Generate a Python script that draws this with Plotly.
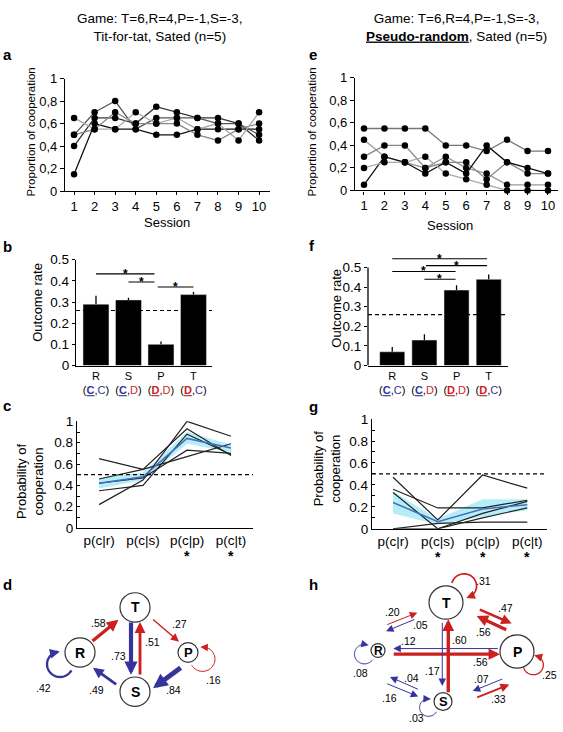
import numpy as np
import plotly.graph_objects as go

# ---------------- data ----------------
sessions = [1, 2, 3, 4, 5, 6, 7, 8, 9, 10]

tft_coop_m1 = [0.15, 0.60, 0.55, 0.55, 0.50, 0.50, 0.55, 0.55, 0.55, 0.55]
tft_coop_m2 = [0.40, 0.65, 0.65, 0.60, 0.75, 0.70, 0.65, 0.65, 0.60, 0.45]
tft_coop_m3 = [0.50, 0.70, 0.80, 0.55, 0.65, 0.65, 0.65, 0.60, 0.60, 0.50]
tft_coop_m4 = [0.50, 0.55, 0.70, 0.60, 0.60, 0.60, 0.50, 0.45, 0.55, 0.60]
tft_coop_m5 = [0.65, 0.55, 0.55, 0.70, 0.60, 0.65, 0.55, 0.60, 0.45, 0.70]

pr_coop_m1 = [0.55, 0.55, 0.55, 0.55, 0.40, 0.40, 0.35, 0.45, 0.35, 0.35]
pr_coop_m2 = [0.45, 0.30, 0.25, 0.20, 0.30, 0.20, 0.15, 0.05, 0.05, 0.05]
pr_coop_m3 = [0.30, 0.40, 0.40, 0.20, 0.25, 0.25, 0.10, 0.25, 0.15, 0.15]
pr_coop_m4 = [0.05, 0.30, 0.25, 0.15, 0.25, 0.15, 0.40, 0.25, 0.20, 0.15]
pr_coop_m5 = [0.20, 0.25, 0.25, 0.30, 0.15, 0.10, 0.05, 0.00, 0.00, 0.00]

outcomes = ["R", "S", "P", "T"]
outcome_pairs = [("C", "C"), ("C", "D"), ("D", "D"), ("D", "C")]
tft_rate = [0.29, 0.31, 0.10, 0.335]
tft_rate_err = [0.04, 0.01, 0.013, 0.012]
pr_rate = [0.07, 0.13, 0.385, 0.44]
pr_rate_err = [0.025, 0.03, 0.025, 0.025]
chance_rate = 0.26
tft_sig_pairs = [("R", "P"), ("S", "P"), ("P", "T")]
pr_sig_pairs = [("R", "T"), ("S", "T"), ("R", "P"), ("S", "P")]

cond_labels = ["p(c|r)", "p(c|s)", "p(c|p)", "p(c|t)"]
tft_cond_m1 = [0.65, 0.55, 0.67, 0.79]
tft_cond_m2 = [0.22, 0.45, 1.00, 0.86]
tft_cond_m3 = [0.46, 0.55, 0.93, 0.68]
tft_cond_m4 = [0.35, 0.40, 0.88, 0.69]
tft_cond_m5 = [0.42, 0.47, 0.73, 0.70]
tft_cond_mean = [0.42, 0.48, 0.84, 0.75]
tft_cond_lo = [0.37, 0.45, 0.79, 0.71]
tft_cond_hi = [0.47, 0.52, 0.90, 0.78]
tft_cond_sig = ["p(c|p)", "p(c|t)"]

pr_cond_m1 = [0.47, 0.08, 0.49, 0.37]
pr_cond_m2 = [0.36, 0.19, 0.19, 0.26]
pr_cond_m3 = [0.33, 0.00, 0.14, 0.25]
pr_cond_m4 = [0.00, 0.05, 0.06, 0.06]
pr_cond_m5 = [0.00, 0.00, 0.10, 0.19]
pr_cond_mean = [0.24, 0.065, 0.18, 0.22]
pr_cond_lo = [0.14, 0.04, 0.11, 0.17]
pr_cond_hi = [0.34, 0.09, 0.27, 0.27]
pr_cond_sig = ["p(c|s)", "p(c|p)", "p(c|t)"]
chance_coop = 0.5

tft_trans_src = ["R", "T", "S", "T", "P", "S", "R", "P"]
tft_trans_dst = ["T", "S", "T", "P", "S", "R", "R", "P"]
tft_trans_p = [0.58, 0.73, 0.51, 0.27, 0.84, 0.49, 0.42, 0.16]

pr_trans_src = ["R", "T", "T", "P", "P", "R", "S", "T", "S", "R", "P", "S", "T", "R", "S", "P"]
pr_trans_dst = ["T", "R", "P", "T", "R", "P", "T", "S", "R", "S", "S", "P", "T", "R", "S", "P"]
pr_trans_p = [0.20, 0.05, 0.47, 0.56, 0.12, 0.56, 0.60, 0.17, 0.04, 0.16, 0.07, 0.33, 0.31, 0.08, 0.03, 0.25]

# ---------------- style / layout ----------------
W, H = 563, 732
FONT = "Liberation Sans, Arial, sans-serif"
BLUE = "#34349c"
RED = "#cc1f1f"
BAND = "#b4eff7"
MEAN = "#4a6cc0"


def dx(a, b):
    return [a / W, b / W]


def dy(top, bottom):
    return [1 - bottom / H, 1 - top / H]


def axis(**kw):
    base = dict(showline=True, linecolor="black", linewidth=1.3, showgrid=False, zeroline=False,
                ticks="outside", ticklen=4, tickwidth=1.2, tickcolor="black",
                tickfont=dict(family=FONT, size=13, color="black"), fixedrange=True)
    base.update(kw)
    return base


fig = go.Figure()

# ---- panels a / e : session lines ----
a_colors = ["#111111", "#333333", "#555555", "#888888", "#aaaaaa"]
e_colors = ["#777777", "#999999", "#888888", "#111111", "#aaaaaa"]
for series, col in zip([tft_coop_m1, tft_coop_m2, tft_coop_m3, tft_coop_m4, tft_coop_m5], a_colors):
    fig.add_trace(go.Scatter(x=sessions, y=series, mode="lines+markers", xaxis="x", yaxis="y",
                             line=dict(color=col, width=1.3), marker=dict(color="black", size=6.5),
                             cliponaxis=False, showlegend=False))
for series, col in zip([pr_coop_m1, pr_coop_m2, pr_coop_m3, pr_coop_m4, pr_coop_m5], e_colors):
    fig.add_trace(go.Scatter(x=sessions, y=series, mode="lines+markers", xaxis="x2", yaxis="y2",
                             line=dict(color=col, width=1.3), marker=dict(color="black", size=6.5),
                             cliponaxis=False, showlegend=False))

# ---- panels b / f : outcome bars ----
idx = list(range(len(outcomes)))
fig.add_trace(go.Bar(x=idx, y=tft_rate, xaxis="x3", yaxis="y3", width=0.8, marker_color="black",
                     error_y=dict(type="data", array=tft_rate_err, arrayminus=[0] * 4, symmetric=False,
                                  color="black", thickness=1.3, width=0), showlegend=False))
fig.add_trace(go.Bar(x=idx, y=pr_rate, xaxis="x4", yaxis="y4", width=0.78, marker_color="black",
                     error_y=dict(type="data", array=pr_rate_err, arrayminus=[0] * 4, symmetric=False,
                                  color="black", thickness=1.3, width=0), showlegend=False))

# ---- panels c / g : conditional probabilities ----
cidx = list(range(len(cond_labels)))
for xa, ya, lo, hi, lines, mean in [
        ("x5", "y5", tft_cond_lo, tft_cond_hi,
         [tft_cond_m1, tft_cond_m2, tft_cond_m3, tft_cond_m4, tft_cond_m5], tft_cond_mean),
        ("x6", "y6", pr_cond_lo, pr_cond_hi,
         [pr_cond_m1, pr_cond_m2, pr_cond_m3, pr_cond_m4, pr_cond_m5], pr_cond_mean)]:
    fig.add_trace(go.Scatter(x=cidx, y=hi, xaxis=xa, yaxis=ya, mode="lines", line=dict(width=0, color=BAND),
                             showlegend=False))
    fig.add_trace(go.Scatter(x=cidx, y=lo, xaxis=xa, yaxis=ya, mode="lines", line=dict(width=0, color=BAND),
                             fill="tonexty", fillcolor=BAND, showlegend=False))
    for s in lines:
        fig.add_trace(go.Scatter(x=cidx, y=s, xaxis=xa, yaxis=ya, mode="lines",
                                 line=dict(color="#222222", width=1.2), showlegend=False, cliponaxis=False))
    fig.add_trace(go.Scatter(x=cidx, y=mean, xaxis=xa, yaxis=ya, mode="lines",
                             line=dict(color=MEAN, width=1.5), showlegend=False))


def outcome_ticktext(lbl, pair):
    def col(c):
        return BLUE if c == "C" else RED
    a, b = pair
    return (f"{lbl}<br>(<span style='color:{col(a)}'><b><u>{a}</u></b></span>,"
            f"<span style='color:{col(b)}'>{b}</span>)")


tt = [outcome_ticktext(l, p) for l, p in zip(outcomes, outcome_pairs)]

comma = ["0", "0,2", "0,4", "0,6", "0,8", "1"]
yv = [0, 0.2, 0.4, 0.6, 0.8, 1]
layout = dict(
    width=W, height=H, margin=dict(l=0, r=0, t=0, b=0),
    paper_bgcolor="white", plot_bgcolor="rgba(0,0,0,0)", showlegend=False,
    font=dict(family=FONT, color="black"),
    xaxis=axis(domain=dx(65, 270), range=[0.56, 10.53], tickvals=sessions, ticklen=3, anchor="y"),
    yaxis=axis(domain=dy(73, 188), range=[0, 1], tickvals=yv, ticktext=comma, anchor="x"),
    xaxis2=axis(domain=dx(355, 558), range=[0.56, 10.49], tickvals=sessions, ticklen=3, anchor="y2"),
    yaxis2=axis(domain=dy(72.3, 187.3), range=[0, 1], tickvals=yv, ticktext=comma, anchor="x2"),
    xaxis3=axis(domain=dx(76, 212), range=[-0.615, 3.57], tickvals=idx, ticktext=tt, ticks="",
                tickfont=dict(family=FONT, size=11, color="black"), anchor="y3"),
    yaxis3=axis(domain=dy(258, 366), range=[0, 0.5], tickvals=[0, 0.1, 0.2, 0.3, 0.4, 0.5],
                ticktext=["0", "0.1", "0.2", "0.3", "0.4", "0.5"], ticklen=3,
                tickfont=dict(family=FONT, size=13.5, color="black"), anchor="x3"),
    xaxis4=axis(domain=dx(368, 508), range=[-0.754, 3.6], tickvals=idx, ticktext=tt, ticks="",
                tickfont=dict(family=FONT, size=11, color="black"), anchor="y4"),
    yaxis4=axis(domain=dy(254, 366), range=[0, 0.56], tickvals=[0, 0.1, 0.2, 0.3, 0.4, 0.5],
                ticktext=["0", "0.1", "0.2", "0.3", "0.4", "0.5"], ticklen=3, showline=False,
                tickfont=dict(family=FONT, size=13.5, color="black"), anchor="x4"),
    xaxis5=axis(domain=dx(77, 253), range=[-0.5, 3.5], tickvals=cidx, ticktext=cond_labels, ticks="",
                tickfont=dict(family=FONT, size=13.5, color="black"), anchor="y5"),
    yaxis5=axis(domain=dy(423, 532), range=[0, 1], tickvals=yv,
                ticktext=["0", "0.2", "0.4", "0.6", "0.8", "1"], ticks="inside", ticklen=3,
                minor=dict(ticks="inside", dtick=0.1, ticklen=3, tickcolor="black"),
                tickfont=dict(family=FONT, size=13.5, color="black"), anchor="x5"),
    xaxis6=axis(domain=dx(372, 547), range=[-0.47, 3.44], tickvals=cidx, ticktext=cond_labels, ticks="",
                tickfont=dict(family=FONT, size=13.5, color="black"), anchor="y6"),
    yaxis6=axis(domain=dy(420.7, 532.7), range=[0, 1], tickvals=yv,
                ticktext=["0", "0.2", "0.4", "0.6", "0.8", "1"], ticks="inside", ticklen=3,
                minor=dict(ticks="inside", dtick=0.1, ticklen=3, tickcolor="black"),
                tickfont=dict(family=FONT, size=13.5, color="black"), anchor="x6"),
    xaxis7=dict(domain=[0, 1], range=[0, W], visible=False, fixedrange=True, anchor="y7"),
    yaxis7=dict(domain=[0, 1], range=[H, 0], visible=False, fixedrange=True, anchor="x7"),
)
fig.update_layout(**layout)

shapes = []
annots = []


def text(xp, yp, s, size=12, angle=0, bold=False, xanchor="center", yanchor="middle", align="center"):
    annots.append(dict(x=xp / W, y=1 - yp / H, xref="paper", yref="paper", text=f"<b>{s}</b>" if bold else s,
                       showarrow=False, textangle=angle, xanchor=xanchor, yanchor=yanchor, align=align,
                       font=dict(family=FONT, size=size, color="black")))


# titles
text(160, 21, "Game: T=6,R=4,P=-1,S=-3,<br>Tit-for-tat, Sated (n=5)", 13.5)
text(456, 21, "Game: T=6,R=4,P=-1,S=-3,<br><b><u>Pseudo-random</u></b>, Sated (n=5)", 13.5)
# panel letters
for L, xp, yp in [("a", 7, 48), ("b", 7, 245), ("c", 7, 407), ("d", 7, 590),
                  ("e", 313, 48), ("f", 312, 244), ("g", 313, 408), ("h", 313, 590)]:
    text(xp, yp, L, 15, bold=True)
# axis titles
text(31, 128, "Proportion of cooperation", 11.5, angle=-90)
text(312, 128, "Proportion of cooperation", 11.5, angle=-90)
text(167, 220, "Session", 13)
text(450, 223, "Session", 13)
text(38, 302, "Outcome rate", 13, angle=-90)
text(337, 308, "Outcome rate", 13, angle=-90)
text(30, 484, "Probability of<br>cooperation", 13, angle=-90)
text(327, 471, "Probability of<br>cooperation", 13, angle=-90)

dash = dict(color="black", width=1.2, dash="4px,3px")
for xa, ya, yval in [("x3", "y3", chance_rate), ("x4", "y4", chance_rate),
                     ("x5", "y5", chance_coop), ("x6", "y6", chance_coop)]:
    shapes.append(dict(type="line", xref=f"{xa} domain", x0=0, x1=1, yref=ya, y0=yval, y1=yval, line=dash))
# y-axis line of panel f (axis stops at 0.5)
shapes.append(dict(type="line", xref="x4 domain", x0=0, x1=0, yref="y4", y0=0, y1=0.5,
                   line=dict(color="black", width=1.3)))

# significance bars
tft_sig_level = [0.433, 0.395, 0.371]
tft_sig_trim = [(0, -0.2), (0, -0.2), (-0.1, 0)]
pr_sig_level = [0.545, 0.51, 0.48, 0.44]
pr_sig_trim = [(0, -0.05), (0.05, -0.05), (0, -0.03), (0, -0.03)]
for xa, ya, pairs, levels, trims in [("x3", "y3", tft_sig_pairs, tft_sig_level, tft_sig_trim),
                                     ("x4", "y4", pr_sig_pairs, pr_sig_level, pr_sig_trim)]:
    for (p0, p1), lev, (t0, t1) in zip(pairs, levels, trims):
        a0 = outcomes.index(p0) + t0
        a1 = outcomes.index(p1) + t1
        shapes.append(dict(type="line", xref=xa, yref=ya, x0=a0, x1=a1, y0=lev, y1=lev,
                           line=dict(color="black", width=1.1)))
        annots.append(dict(x=(a0 + a1) / 2, y=lev, xref=xa, yref=ya, text="<b>*</b>", showarrow=False,
                           yanchor="middle", font=dict(family=FONT, size=12, color="black")))

# stars under conditional-probability labels
for xa, sig, yp in [("x5", tft_cond_sig, 560), ("x6", pr_cond_sig, 561)]:
    for s in sig:
        annots.append(dict(x=cond_labels.index(s), y=1 - yp / H, xref=xa, yref="paper", text="<b>*</b>",
                           showarrow=False, yanchor="middle", font=dict(family=FONT, size=14, color="black")))

# ---------------- transition diagrams ----------------
d_nodes = {"T": (135, 613, 15, 14), "R": (80, 659, 15, 14), "P": (188, 659, 10, 13), "S": (135, 699, 15, 14)}
h_nodes = {"T": (446, 608, 17, 14), "R": (378, 657, 7, 12), "P": (517, 658, 17, 14), "S": (443, 709, 9, 13)}

d_geom = [("edge", 0.23, -1.0, 0.71, -1.0), ("edge", 0.174, 4, 0.80, 4), ("edge", 0.198, 5, 0.826, 5),
          ("edge", 0.30, -2.5, 0.80, -2.5), ("edge", 0.22, -8, 0.75, -8), ("edge", 0.28, -5, 0.71, -5),
          ("loop", 149, 23.3, 13, "cw", 60), ("loop", 25, 16, 12.5, "ccw", 55)]
d_lab = [(-7, -7.6), (-13, 8), (12, -7), (14, -6), (6, 12), (-8, 14), (-17, 24), (10.5, 21)]

h_geom = [("edge", 0.268, -16.2, 0.65, -8.4), ("edge", 0.419, 4.3, 0.785, 11.3),
          ("edge", 0.36, -13.5, 0.76, -20.4), ("edge", 0.243, 12.1, 0.62, 6.5),
          ("edge", 0.135, 2.9, 0.89, 2.1), ("edge", 0.11, 3.6, 0.878, 2.8),
          ("edge", 0.09, 5.0, 0.832, 2.8), ("edge", 0.202, 3.1, 0.845, 1.2),
          ("edge", 0.324, -5.8, 0.685, -13.6), ("edge", 0.334, 20.9, 0.73, 11.5),
          ("edge", 0.308, -14.9, 0.66, -8.1), ("edge", 0.334, 15.8, 0.717, 23.4),
          ("loop", -43, 24.7, 12.5, "cw", 57), ("loop", 165, 14, 10, "cw", 50),
          ("loop", 157, 15.7, 9, "cw", 52), ("loop", 40, 21.3, 10, "ccw", 55)]
h_lab = [(-9.3, -6.8), (19.5, -0.5), (9.5, -8.2), (-8.4, 9.4), (-37.5, -7.7), (34.3, 7.6), (11, -16.5),
         (-9.6, 17.5), (7.5, -5.4), (-12.5, 7.7), (-6, -6.5), (5.3, 8.3), (19, -5), (-4, 19), (-12, 11), (16, 10)]


def arrow(x0, y0, x1, y1, color, w):
    size = (5 + 1.6 * w) / (4.4 * w)
    annots.append(dict(x=x1, y=y1, ax=x0, ay=y0, xref="x7", yref="y7", axref="x7", ayref="y7", text="",
                       font=dict(size=1), borderpad=0,
                       showarrow=True, arrowhead=2, arrowsize=size, arrowwidth=w, arrowcolor=color,
                       standoff=0, startstandoff=0))


def network(nodes, src, dst, prob, geom, lab):
    for u, v, p, g, (lx, ly) in zip(src, dst, prob, geom, lab):
        color = RED if v in ("T", "P") else BLUE
        w = max(1.0, 1 + 6 * (p - 0.2))
        cu = np.array(nodes[u][:2], dtype=float)
        if g[0] == "edge":
            _, t0, o0, t1, o1 = g
            cv = np.array(nodes[v][:2], dtype=float)
            D = cv - cu
            d = D / np.linalg.norm(D)
            perp = np.array([-d[1], d[0]])
            s = cu + t0 * D + o0 * perp
            e = cu + t1 * D + o1 * perp
            arrow(s[0], s[1], e[0], e[1], color, w)
            mid = (s + e) / 2
        else:
            _, th, dist, rho, direction, gap = g
            thr = np.radians(th)
            Lc = cu + dist * np.array([np.cos(thr), np.sin(thr)])
            face = th + 180
            if direction == "cw":
                a0, a1, sg = face + gap, face + 360 - gap, 1
            else:
                a0, a1, sg = face - gap, face - 360 + gap, -1
            ang = np.radians(np.linspace(a0, a1 - sg * 10, 40))
            px_ = Lc[0] + rho * np.cos(ang)
            py_ = Lc[1] + rho * np.sin(ang)
            path = "M " + " L ".join(f"{a:.2f},{b:.2f}" for a, b in zip(px_, py_))
            shapes.append(dict(type="path", xref="x7", yref="y7", path=path, line=dict(color=color, width=w)))
            ta = np.radians(a1 - sg * 25)
            ea = np.radians(a1)
            arrow(Lc[0] + rho * np.cos(ta), Lc[1] + rho * np.sin(ta),
                  Lc[0] + rho * np.cos(ea), Lc[1] + rho * np.sin(ea), color, w)
            mid = Lc
        annots.append(dict(x=mid[0] + lx, y=mid[1] + ly, xref="x7", yref="y7", text=f".{int(round(p * 100)):02d}",
                           showarrow=False, font=dict(family=FONT, size=10.5, color="black")))
    for name, (cx, cy, r, fs) in nodes.items():
        shapes.append(dict(type="circle", xref="x7", yref="y7", x0=cx - r, x1=cx + r, y0=cy - r, y1=cy + r,
                           line=dict(color="#333333", width=1.2), fillcolor="white", layer="above"))
        annots.append(dict(x=cx, y=cy, xref="x7", yref="y7", text=f"<b>{name}</b>", showarrow=False,
                           font=dict(family=FONT, size=fs, color="black")))


network(d_nodes, tft_trans_src, tft_trans_dst, tft_trans_p, d_geom, d_lab)
network(h_nodes, pr_trans_src, pr_trans_dst, pr_trans_p, h_geom, h_lab)

fig.update_layout(shapes=shapes, annotations=annots)
fig.write_html("out.html", config={"displayModeBar": False},
               post_script="document.body.style.margin='0';")
